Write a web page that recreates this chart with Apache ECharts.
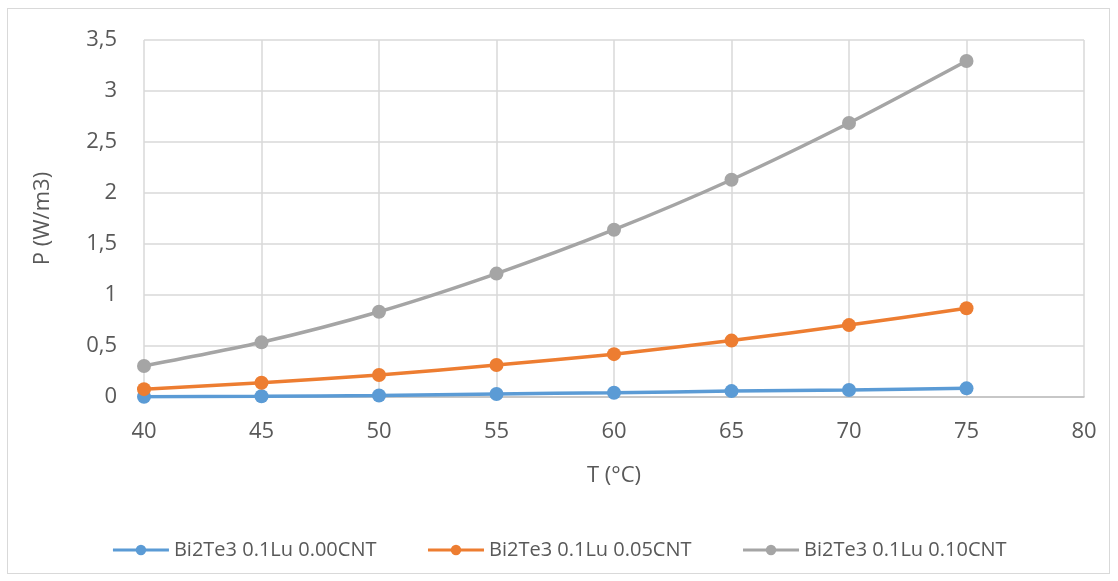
<!DOCTYPE html>
<html>
<head>
<meta charset="utf-8">
<script src="https://cdn.jsdelivr.net/npm/echarts@6/dist/echarts.min.js"></script>
<style>
  html, body { margin: 0; padding: 0; background: #fff; }
  #frame { position: absolute; left: 7px; top: 8px; width: 1103px; height: 566px; border: 1px solid #d9d9d9; box-sizing: border-box; }
  #chart { position: absolute; left: 0; top: 0; width: 1118px; height: 581px; }
</style>
</head>
<body>
<div id="frame"></div>
<div id="chart"></div>
<script>
// Temperature in °C
const temperatures = [40, 45, 50, 55, 60, 65, 70, 75];
// Power factor P (W/m3) per composition
const cnt000 = [0.003, 0.007, 0.014, 0.03, 0.042, 0.058, 0.069, 0.085];
const cnt005 = [0.077, 0.14, 0.215, 0.313, 0.42, 0.553, 0.705, 0.87];
const cnt010 = [0.304, 0.536, 0.836, 1.21, 1.64, 2.13, 2.686, 3.294];
const seriesNames = ['Bi2Te3 0.1Lu 0.00CNT', 'Bi2Te3 0.1Lu 0.05CNT', 'Bi2Te3 0.1Lu 0.10CNT'];
const colors = ['#5B9BD5', '#ED7D31', '#A5A5A5'];

const font = '"Open Sans", "Liberation Sans", sans-serif';
const chart = echarts.init(document.getElementById('chart'), null, { renderer: 'canvas' });

function makeSeries(name, values, color) {
  return {
    name: name,
    type: 'line',
    smooth: 0.25,
    data: temperatures.map((t, i) => [t, values[i]]),
    symbol: 'circle',
    symbolSize: 14,
    lineStyle: { width: 3.5, color: color },
    itemStyle: { color: color },
    emphasis: { disabled: true }
  };
}

chart.setOption({
  animation: false,
  color: colors,
  grid: { left: 144, top: 40, right: 34, bottom: 184 },
  xAxis: {
    type: 'value',
    min: 40, max: 80, interval: 5,
    name: 'T (°C)',
    nameLocation: 'middle',
    nameGap: 68,
    nameTextStyle: { fontFamily: font, fontSize: 22, color: '#595959' },
    axisLine: { show: true, lineStyle: { color: '#bfbfbf', width: 1.5 } },
    axisTick: { show: false },
    axisLabel: { fontFamily: font, fontSize: 22, color: '#595959', margin: 24 },
    splitLine: { show: true, lineStyle: { color: '#d9d9d9', width: 1.5 } }
  },
  yAxis: {
    type: 'value',
    min: 0, max: 3.5, interval: 0.5,
    name: 'P (W/m3)',
    nameLocation: 'middle',
    nameGap: 90,
    nameRotate: 90,
    nameTextStyle: { fontFamily: font, fontSize: 22, color: '#595959' },
    axisLine: { show: false },
    axisTick: { show: false },
    axisLabel: {
      fontFamily: font, fontSize: 22, color: '#595959', margin: 27,
      formatter: v => String(v).replace('.', ',')
    },
    splitLine: { show: true, lineStyle: { color: '#d9d9d9', width: 1.5 } }
  },
  legend: {
    top: 535,
    left: 'center',
    itemGap: 50,
    itemWidth: 56,
    itemHeight: 13,
    lineStyle: { width: 3 },
    textStyle: { fontFamily: font, fontSize: 20, color: '#595959' },
    data: seriesNames
  },
  series: [
    makeSeries(seriesNames[0], cnt000, colors[0]),
    makeSeries(seriesNames[1], cnt005, colors[1]),
    makeSeries(seriesNames[2], cnt010, colors[2])
  ]
});
</script>
</body>
</html>
